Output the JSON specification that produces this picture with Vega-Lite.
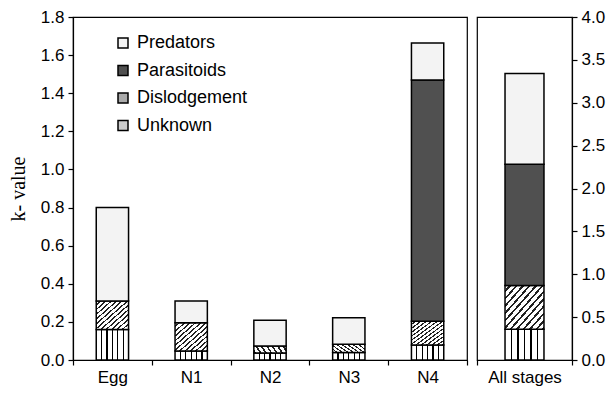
{
  "$schema": "https://vega.github.io/schema/vega-lite/v6.json",
  "background": "white",
  "padding": {"left": 7, "top": 7, "right": 2, "bottom": 2},
  "config": {
    "font": "Liberation Sans",
    "view": {"stroke": "black", "strokeWidth": 1.2},
    "axis": {"domainColor": "black", "tickColor": "black", "labelColor": "black", "labelFontSize": 17, "labelFont": "Liberation Sans", "grid": false, "domainWidth": 1.2, "tickWidth": 1.2, "tickSize": 5, "labelPadding": 4},
    "legend": {"orient": "none", "legendX": 41, "legendY": 17, "symbolType": "square", "symbolSize": 100, "symbolStrokeColor": "black", "symbolStrokeWidth": 1.5, "labelFontSize": 18, "labelFont": "Liberation Sans", "labelColor": "black", "rowPadding": 9.5, "labelOffset": 5}
  },
  "datasets": {
    "k": [
      {"stage": "Egg", "type": "Unknown", "k": 0.16},
      {"stage": "Egg", "type": "Dislodgement", "k": 0.15},
      {"stage": "Egg", "type": "Predators", "k": 0.49},
      {"stage": "N1", "type": "Unknown", "k": 0.047},
      {"stage": "N1", "type": "Dislodgement", "k": 0.149},
      {"stage": "N1", "type": "Predators", "k": 0.113},
      {"stage": "N2", "type": "Unknown", "k": 0.037},
      {"stage": "N2", "type": "Dislodgement", "k": 0.036},
      {"stage": "N2", "type": "Predators", "k": 0.135},
      {"stage": "N3", "type": "Unknown", "k": 0.039},
      {"stage": "N3", "type": "Dislodgement", "k": 0.043},
      {"stage": "N3", "type": "Predators", "k": 0.14},
      {"stage": "N4", "type": "Unknown", "k": 0.079},
      {"stage": "N4", "type": "Dislodgement", "k": 0.125},
      {"stage": "N4", "type": "Parasitoids", "k": 1.266},
      {"stage": "N4", "type": "Predators", "k": 0.193},
      {"stage": "All stages", "type": "Unknown", "k": 0.358},
      {"stage": "All stages", "type": "Dislodgement", "k": 0.512},
      {"stage": "All stages", "type": "Parasitoids", "k": 1.413},
      {"stage": "All stages", "type": "Predators", "k": 1.057}
    ],
    "rank": [
      {"type": "Unknown", "r": 1},
      {"type": "Dislodgement", "r": 2},
      {"type": "Parasitoids", "r": 3},
      {"type": "Predators", "r": 4}
    ]
  },
  "spacing": 6,
  "resolve": {"scale": {"y": "independent", "x": "independent", "color": "independent"}, "legend": {"color": "independent"}},
  "hconcat": [
    {
      "width": 394,
      "height": 343,
      "data": {"name": "k"},
      "transform": [
        {"filter": "datum.stage !== 'All stages'"},
        {"lookup": "type", "from": {"data": {"name": "rank"}, "key": "type", "fields": ["r"]}}
      ],
      "mark": {"type": "bar", "stroke": "black", "strokeWidth": 1.5, "width": {"band": 0.41}},
      "encoding": {
        "x": {"field": "stage", "type": "nominal", "sort": ["Egg", "N1", "N2", "N3", "N4"], "scale": {"paddingInner": 0, "paddingOuter": 0}, "axis": {"title": null, "labelAngle": 0, "tickBand": "extent"}},
        "y": {"field": "k", "type": "quantitative", "stack": "zero", "scale": {"domain": [0, 1.8], "nice": false}, "axis": {"title": "k- value", "titleFont": "Liberation Serif", "titleFontSize": 20, "titleFontWeight": "normal", "titleColor": "black", "titlePadding": 12, "values": [0, 0.2, 0.4, 0.6, 0.8, 1.0, 1.2, 1.4, 1.6, 1.8], "format": ".1f"}},
        "color": {
          "condition": [
            {"test": "datum.type === 'Dislodgement'", "value": {"gradient": "linear", "x1": 0, "y1": 0, "x2": 1, "y2": 1, "stops": [
                {"offset": 0, "color": "#ffffff"}, {"offset": 0.054, "color": "#ffffff"}, {"offset": 0.054, "color": "#222222"}, {"offset": 0.0833, "color": "#222222"},
                {"offset": 0.0833, "color": "#ffffff"}, {"offset": 0.1373, "color": "#ffffff"}, {"offset": 0.1373, "color": "#222222"}, {"offset": 0.1667, "color": "#222222"},
                {"offset": 0.1667, "color": "#ffffff"}, {"offset": 0.2207, "color": "#ffffff"}, {"offset": 0.2207, "color": "#222222"}, {"offset": 0.25, "color": "#222222"},
                {"offset": 0.25, "color": "#ffffff"}, {"offset": 0.304, "color": "#ffffff"}, {"offset": 0.304, "color": "#222222"}, {"offset": 0.3333, "color": "#222222"},
                {"offset": 0.3333, "color": "#ffffff"}, {"offset": 0.3873, "color": "#ffffff"}, {"offset": 0.3873, "color": "#222222"}, {"offset": 0.4167, "color": "#222222"},
                {"offset": 0.4167, "color": "#ffffff"}, {"offset": 0.4707, "color": "#ffffff"}, {"offset": 0.4707, "color": "#222222"}, {"offset": 0.5, "color": "#222222"},
                {"offset": 0.5, "color": "#ffffff"}, {"offset": 0.554, "color": "#ffffff"}, {"offset": 0.554, "color": "#222222"}, {"offset": 0.5833, "color": "#222222"},
                {"offset": 0.5833, "color": "#ffffff"}, {"offset": 0.6373, "color": "#ffffff"}, {"offset": 0.6373, "color": "#222222"}, {"offset": 0.6667, "color": "#222222"},
                {"offset": 0.6667, "color": "#ffffff"}, {"offset": 0.7207, "color": "#ffffff"}, {"offset": 0.7207, "color": "#222222"}, {"offset": 0.75, "color": "#222222"},
                {"offset": 0.75, "color": "#ffffff"}, {"offset": 0.804, "color": "#ffffff"}, {"offset": 0.804, "color": "#222222"}, {"offset": 0.8333, "color": "#222222"},
                {"offset": 0.8333, "color": "#ffffff"}, {"offset": 0.8873, "color": "#ffffff"}, {"offset": 0.8873, "color": "#222222"}, {"offset": 0.9167, "color": "#222222"},
                {"offset": 0.9167, "color": "#ffffff"}, {"offset": 0.9707, "color": "#ffffff"}, {"offset": 0.9707, "color": "#222222"}, {"offset": 1, "color": "#222222"}
              ]}},
            {"test": "datum.type === 'Unknown'", "value": {"gradient": "linear", "x1": 0, "y1": 0, "x2": 1, "y2": 0, "stops": [
                {"offset": 0, "color": "#ffffff"},
                {"offset": 0.147, "color": "#ffffff"}, {"offset": 0.147, "color": "#000000"}, {"offset": 0.187, "color": "#000000"}, {"offset": 0.187, "color": "#ffffff"},
                {"offset": 0.313, "color": "#ffffff"}, {"offset": 0.313, "color": "#000000"}, {"offset": 0.353, "color": "#000000"}, {"offset": 0.353, "color": "#ffffff"},
                {"offset": 0.48, "color": "#ffffff"}, {"offset": 0.48, "color": "#000000"}, {"offset": 0.52, "color": "#000000"}, {"offset": 0.52, "color": "#ffffff"},
                {"offset": 0.647, "color": "#ffffff"}, {"offset": 0.647, "color": "#000000"}, {"offset": 0.687, "color": "#000000"}, {"offset": 0.687, "color": "#ffffff"},
                {"offset": 0.813, "color": "#ffffff"}, {"offset": 0.813, "color": "#000000"}, {"offset": 0.853, "color": "#000000"}, {"offset": 0.853, "color": "#ffffff"},
                {"offset": 1, "color": "#ffffff"}
              ]}}
          ],
          "field": "type", "type": "nominal",
          "sort": ["Predators", "Parasitoids", "Dislodgement", "Unknown"],
          "scale": {"domain": ["Predators", "Parasitoids", "Dislodgement", "Unknown"], "range": ["#f3f3f3", "#505050", "#aaaaaa", "#cccccc"]},
          "legend": {
            "title": null,
            "encode": {"symbols": {"update": {
              "stroke": {"value": "black"},
              "strokeWidth": {"value": 1.5},
              "fill": {"signal": "datum.value === 'Unknown' ? {gradient: 'linear', x1: 0, y1: 0, x2: 1, y2: 0, stops: [{offset: 0, color: '#ffffff'}, {offset: 0.38, color: '#ffffff'}, {offset: 0.38, color: '#000000'}, {offset: 0.62, color: '#000000'}, {offset: 0.62, color: '#ffffff'}, {offset: 1, color: '#ffffff'}]} : datum.value === 'Dislodgement' ? {gradient: 'linear', x1: 0, y1: 0, x2: 1, y2: 1, stops: [{offset: 0, color: '#ffffff'}, {offset: 0.3, color: '#ffffff'}, {offset: 0.3, color: '#222222'}, {offset: 0.45, color: '#222222'}, {offset: 0.45, color: '#ffffff'}, {offset: 0.6, color: '#ffffff'}, {offset: 0.6, color: '#222222'}, {offset: 0.75, color: '#222222'}, {offset: 0.75, color: '#ffffff'}, {offset: 1, color: '#ffffff'}]} : datum.value === 'Parasitoids' ? '#505050' : '#f3f3f3'"}
            }}}
          }
        },
        "order": {"field": "r", "type": "quantitative", "sort": "ascending"}
      }
    },
    {
      "width": 95,
      "height": 343,
      "data": {"name": "k"},
      "transform": [
        {"filter": "datum.stage === 'All stages'"},
        {"lookup": "type", "from": {"data": {"name": "rank"}, "key": "type", "fields": ["r"]}}
      ],
      "mark": {"type": "bar", "stroke": "black", "strokeWidth": 1.5, "width": {"band": 0.41}},
      "encoding": {
        "x": {"field": "stage", "type": "nominal", "scale": {"paddingInner": 0, "paddingOuter": 0}, "axis": {"title": null, "labelAngle": 0, "tickBand": "extent"}},
        "y": {"field": "k", "type": "quantitative", "stack": "zero", "scale": {"domain": [0, 4], "nice": false}, "axis": {"title": null, "orient": "right", "values": [0, 0.5, 1.0, 1.5, 2.0, 2.5, 3.0, 3.5, 4.0], "format": ".1f"}},
        "color": {
          "condition": [
            {"test": "datum.type === 'Dislodgement'", "value": {"gradient": "linear", "x1": 0, "y1": 0, "x2": 1, "y2": 1, "stops": [
                {"offset": 0, "color": "#ffffff"}, {"offset": 0.054, "color": "#ffffff"}, {"offset": 0.054, "color": "#222222"}, {"offset": 0.0833, "color": "#222222"},
                {"offset": 0.0833, "color": "#ffffff"}, {"offset": 0.1373, "color": "#ffffff"}, {"offset": 0.1373, "color": "#222222"}, {"offset": 0.1667, "color": "#222222"},
                {"offset": 0.1667, "color": "#ffffff"}, {"offset": 0.2207, "color": "#ffffff"}, {"offset": 0.2207, "color": "#222222"}, {"offset": 0.25, "color": "#222222"},
                {"offset": 0.25, "color": "#ffffff"}, {"offset": 0.304, "color": "#ffffff"}, {"offset": 0.304, "color": "#222222"}, {"offset": 0.3333, "color": "#222222"},
                {"offset": 0.3333, "color": "#ffffff"}, {"offset": 0.3873, "color": "#ffffff"}, {"offset": 0.3873, "color": "#222222"}, {"offset": 0.4167, "color": "#222222"},
                {"offset": 0.4167, "color": "#ffffff"}, {"offset": 0.4707, "color": "#ffffff"}, {"offset": 0.4707, "color": "#222222"}, {"offset": 0.5, "color": "#222222"},
                {"offset": 0.5, "color": "#ffffff"}, {"offset": 0.554, "color": "#ffffff"}, {"offset": 0.554, "color": "#222222"}, {"offset": 0.5833, "color": "#222222"},
                {"offset": 0.5833, "color": "#ffffff"}, {"offset": 0.6373, "color": "#ffffff"}, {"offset": 0.6373, "color": "#222222"}, {"offset": 0.6667, "color": "#222222"},
                {"offset": 0.6667, "color": "#ffffff"}, {"offset": 0.7207, "color": "#ffffff"}, {"offset": 0.7207, "color": "#222222"}, {"offset": 0.75, "color": "#222222"},
                {"offset": 0.75, "color": "#ffffff"}, {"offset": 0.804, "color": "#ffffff"}, {"offset": 0.804, "color": "#222222"}, {"offset": 0.8333, "color": "#222222"},
                {"offset": 0.8333, "color": "#ffffff"}, {"offset": 0.8873, "color": "#ffffff"}, {"offset": 0.8873, "color": "#222222"}, {"offset": 0.9167, "color": "#222222"},
                {"offset": 0.9167, "color": "#ffffff"}, {"offset": 0.9707, "color": "#ffffff"}, {"offset": 0.9707, "color": "#222222"}, {"offset": 1, "color": "#222222"}
              ]}},
            {"test": "datum.type === 'Unknown'", "value": {"gradient": "linear", "x1": 0, "y1": 0, "x2": 1, "y2": 0, "stops": [
                {"offset": 0, "color": "#ffffff"},
                {"offset": 0.147, "color": "#ffffff"}, {"offset": 0.147, "color": "#000000"}, {"offset": 0.187, "color": "#000000"}, {"offset": 0.187, "color": "#ffffff"},
                {"offset": 0.313, "color": "#ffffff"}, {"offset": 0.313, "color": "#000000"}, {"offset": 0.353, "color": "#000000"}, {"offset": 0.353, "color": "#ffffff"},
                {"offset": 0.48, "color": "#ffffff"}, {"offset": 0.48, "color": "#000000"}, {"offset": 0.52, "color": "#000000"}, {"offset": 0.52, "color": "#ffffff"},
                {"offset": 0.647, "color": "#ffffff"}, {"offset": 0.647, "color": "#000000"}, {"offset": 0.687, "color": "#000000"}, {"offset": 0.687, "color": "#ffffff"},
                {"offset": 0.813, "color": "#ffffff"}, {"offset": 0.813, "color": "#000000"}, {"offset": 0.853, "color": "#000000"}, {"offset": 0.853, "color": "#ffffff"},
                {"offset": 1, "color": "#ffffff"}
              ]}}
          ],
          "field": "type", "type": "nominal",
          "sort": ["Predators", "Parasitoids", "Dislodgement", "Unknown"],
          "scale": {"domain": ["Predators", "Parasitoids", "Dislodgement", "Unknown"], "range": ["#f3f3f3", "#505050", "#aaaaaa", "#cccccc"]},
          "legend": null
        },
        "order": {"field": "r", "type": "quantitative", "sort": "ascending"}
      }
    }
  ]
}
